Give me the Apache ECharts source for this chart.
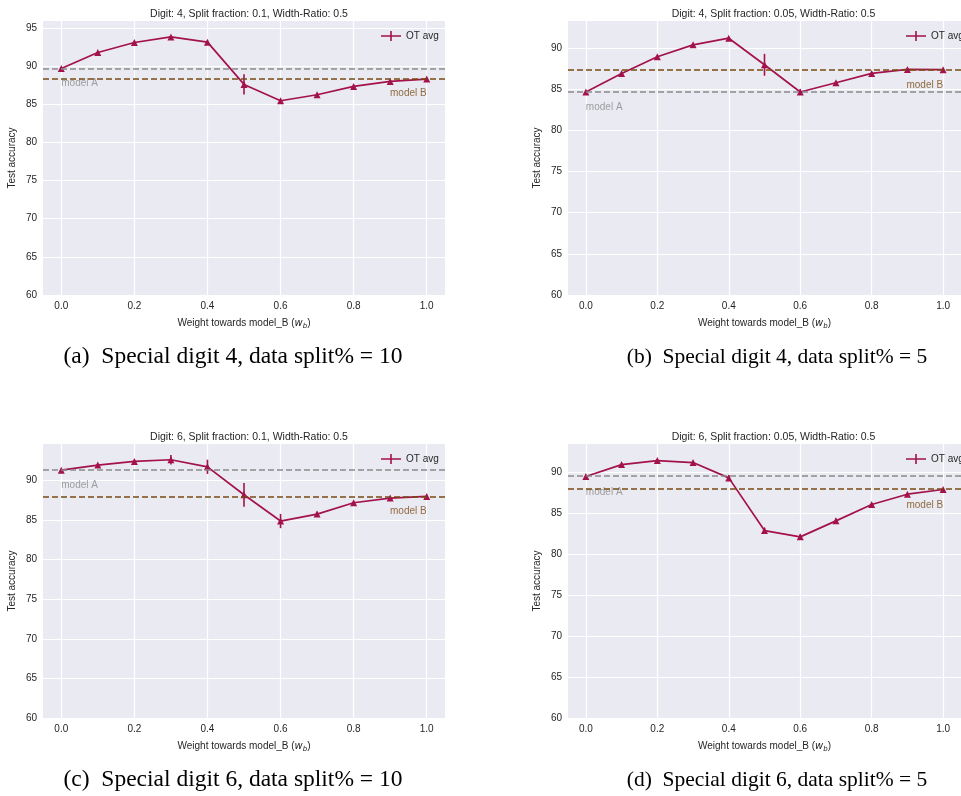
<!DOCTYPE html>
<html>
<head>
<meta charset="utf-8">
<script src="https://cdn.jsdelivr.net/npm/echarts@6/dist/echarts.min.js"></script>
<style>
  html, body { margin: 0; padding: 0; background: #fff; }
  #chart { width: 961px; height: 796px; }
</style>
</head>
<body>
<div id="chart"></div>
<script>
// weight towards model_B
const weights = [0.0, 0.1, 0.2, 0.3, 0.4, 0.5, 0.6, 0.7, 0.8, 0.9, 1.0];
const xTicks = [0.0, 0.2, 0.4, 0.6, 0.8, 1.0];
const yTicksTall = [60, 65, 70, 75, 80, 85, 90, 95];
const yTicksShort = [60, 65, 70, 75, 80, 85, 90];

// (a) digit 4, split 0.1
const d4s10Mean = [89.68, 91.77, 93.08, 93.82, 93.13, 87.59, 85.45, 86.24, 87.33, 87.98, 88.29];
const d4s10Err = [0.1, 0.1, 0.1, 0.15, 0.2, 1.33, 0.15, 0.15, 0.1, 0.1, 0.1];
const d4s10ModelA = 89.68;
const d4s10ModelB = 88.29;

// (b) digit 4, split 0.05
const d4s05Mean = [84.67, 86.93, 88.95, 90.40, 91.21, 87.98, 84.67, 85.80, 86.93, 87.42, 87.38];
const d4s05Err = [0.1, 0.1, 0.1, 0.15, 0.15, 1.33, 0.35, 0.15, 0.1, 0.1, 0.1];
const d4s05ModelA = 84.71;
const d4s05ModelB = 87.38;

// (c) digit 6, split 0.1
const d6s10Mean = [91.30, 91.94, 92.40, 92.61, 91.72, 88.19, 84.87, 85.75, 87.18, 87.77, 87.98];
const d6s10Err = [0.15, 0.15, 0.2, 0.6, 0.9, 1.5, 0.9, 0.3, 0.15, 0.15, 0.1];
const d6s10ModelA = 91.30;
const d6s10ModelB = 87.98;

// (d) digit 6, split 0.05
const d6s05Mean = [89.43, 90.89, 91.38, 91.14, 89.27, 82.85, 82.08, 84.03, 86.02, 87.28, 87.85];
const d6s05Err = [0.1, 0.15, 0.15, 0.15, 0.35, 0.35, 0.3, 0.3, 0.15, 0.15, 0.1];
const d6s05ModelA = 89.47;
const d6s05ModelB = 87.89;

const yMaxes = [95.9, 93.3, 94.6, 93.4];
const titles = [
  'Digit: 4, Split fraction: 0.1, Width-Ratio: 0.5',
  'Digit: 4, Split fraction: 0.05, Width-Ratio: 0.5',
  'Digit: 6, Split fraction: 0.1, Width-Ratio: 0.5',
  'Digit: 6, Split fraction: 0.05, Width-Ratio: 0.5'
];
const captions = [
  '(a)  Special digit 4, data split% = 10',
  '(b)  Special digit 4, data split% = 5',
  '(c)  Special digit 6, data split% = 10',
  '(d)  Special digit 6, data split% = 5'
];

const panels = [
  { mean: d4s10Mean, err: d4s10Err, a: d4s10ModelA, b: d4s10ModelB, yTicks: yTicksTall },
  { mean: d4s05Mean, err: d4s05Err, a: d4s05ModelA, b: d4s05ModelB, yTicks: yTicksShort },
  { mean: d6s10Mean, err: d6s10Err, a: d6s10ModelA, b: d6s10ModelB, yTicks: yTicksShort },
  { mean: d6s05Mean, err: d6s05Err, a: d6s05ModelA, b: d6s05ModelB, yTicks: yTicksShort }
];

const lineColor = '#a3124c';
const modelAColor = '#8a8a8a';
const modelBColor = '#7a4a12';
const textColor = '#262626';
const font = 'Liberation Sans';
const labelDrop = 1.9; // model labels sit a bit below their lines

const gridBoxes = [
  { left: 43, top: 21, width: 402, height: 274 },
  { left: 568, top: 21, width: 401, height: 274 },
  { left: 43, top: 444, width: 402, height: 274 },
  { left: 568, top: 444, width: 401, height: 274 }
];

const chart = echarts.init(document.getElementById('chart'));

const grid = [], xAxis = [], yAxis = [], series = [], title = [], legend = [], graphic = [];

gridBoxes.forEach((g, i) => {
  const p = panels[i];
  grid.push(Object.assign({ backgroundColor: '#eaeaf2', show: true, borderWidth: 0 }, g));
  title.push({
    text: titles[i],
    left: g.left + g.width / 2,
    top: g.top - 17,
    textAlign: 'center',
    textStyle: { fontFamily: font, fontSize: 10.5, fontWeight: 'normal', color: textColor }
  });
  legend.push({
    data: ['OT avg'],
    left: g.left + 333,
    top: g.top + 5,
    itemWidth: 20,
    itemHeight: 10,
    itemGap: 6,
    icon: 'path://M0,4.2h20v1.6h-20z M9.2,0h1.6v10h-1.6z',
    textStyle: { fontFamily: font, fontSize: 10, color: textColor }
  });
  xAxis.push({
    type: 'value',
    gridIndex: i,
    min: -0.05,
    max: 1.05,
    name: '{n|Weight towards model_B (}{it|w}{sub|b}{n|)}',
    nameLocation: 'middle',
    nameGap: 22,
    nameTextStyle: {
      rich: {
        n: { fontFamily: font, fontSize: 10, color: textColor },
        it: { fontFamily: 'DejaVu Sans', fontStyle: 'italic', fontSize: 10, color: textColor },
        sub: { fontFamily: 'DejaVu Sans', fontStyle: 'italic', fontSize: 7, color: textColor, padding: [6, 0, 0, 0] }
      }
    },
    axisLine: { show: false },
    axisTick: { show: false, customValues: xTicks },
    axisLabel: {
      customValues: xTicks,
      margin: 6,
      fontFamily: font,
      fontSize: 10,
      color: textColor,
      formatter: v => v.toFixed(1)
    },
    splitLine: { show: true, lineStyle: { color: '#fff', width: 1.2 } }
  });
  yAxis.push({
    type: 'value',
    gridIndex: i,
    min: 60,
    max: yMaxes[i],
    name: 'Test accuracy',
    nameLocation: 'middle',
    nameGap: 26,
    nameTextStyle: { fontFamily: font, fontSize: 10, color: textColor },
    axisLine: { show: false },
    axisTick: { show: false, customValues: p.yTicks },
    axisLabel: {
      customValues: p.yTicks,
      margin: 6,
      fontFamily: font,
      fontSize: 10,
      color: textColor
    },
    splitLine: { show: true, lineStyle: { color: '#fff', width: 1.2 } }
  });

  const pts = weights.map((w, k) => [w, p.mean[k]]);
  const errPts = weights.map((w, k) => [w, p.mean[k], p.err[k]]);

  series.push({
    name: 'model lines ' + i,
    type: 'line',
    xAxisIndex: i,
    yAxisIndex: i,
    data: [],
    silent: true,
    markLine: {
      symbol: 'none',
      silent: true,
      label: { show: false },
      data: [
        { yAxis: p.a, lineStyle: { color: modelAColor, type: [6, 3], width: 1.7 } },
        { yAxis: p.b, lineStyle: { color: modelBColor, type: [6, 3], width: 1.7 } }
      ]
    },
    z: 1
  });
  series.push({
    name: 'OT avg',
    type: 'line',
    xAxisIndex: i,
    yAxisIndex: i,
    data: pts,
    color: lineColor,
    symbol: 'triangle',
    symbolSize: 7,
    lineStyle: { width: 1.7, color: lineColor },
    itemStyle: { color: lineColor },
    z: 3
  });
  series.push({
    name: 'OT err',
    type: 'custom',
    xAxisIndex: i,
    yAxisIndex: i,
    data: errPts,
    encode: { x: 0, y: 1 },
    renderItem: (params, api) => {
      const x = api.value(0), y = api.value(1), e = api.value(2);
      const lo = api.coord([x, y - e]);
      const hi = api.coord([x, y + e]);
      return {
        type: 'line',
        shape: { x1: lo[0], y1: lo[1], x2: hi[0], y2: hi[1] },
        style: { stroke: lineColor, lineWidth: 1.6 }
      };
    },
    z: 3
  });
  series.push({
    name: 'model labels ' + i,
    type: 'scatter',
    xAxisIndex: i,
    yAxisIndex: i,
    symbolSize: 0,
    silent: true,
    data: [
      { value: [weights[0], p.a - labelDrop], label: { formatter: 'model A', position: 'right', distance: 0, color: modelAColor } },
      { value: [weights[weights.length - 1], p.b - labelDrop], label: { formatter: 'model B', position: 'left', distance: 0, color: modelBColor } }
    ],
    label: { show: true, fontFamily: font, fontSize: 10 },
    z: 2
  });

  // right column captions are set a little tighter in the source
  graphic.push({
    type: 'text',
    x: i % 2 === 0 ? 233 : 777,
    y: i < 2 ? 357 : 780,
    style: {
      text: captions[i],
      font: (i % 2 === 0 ? '23.5px' : '21.5px') + ' "Liberation Serif"',
      fill: '#000',
      align: 'center',
      verticalAlign: 'middle'
    }
  });
});

chart.setOption({
  animation: false,
  backgroundColor: '#fff',
  title: title,
  legend: legend,
  grid: grid,
  xAxis: xAxis,
  yAxis: yAxis,
  series: series,
  graphic: graphic
});
</script>
</body>
</html>
